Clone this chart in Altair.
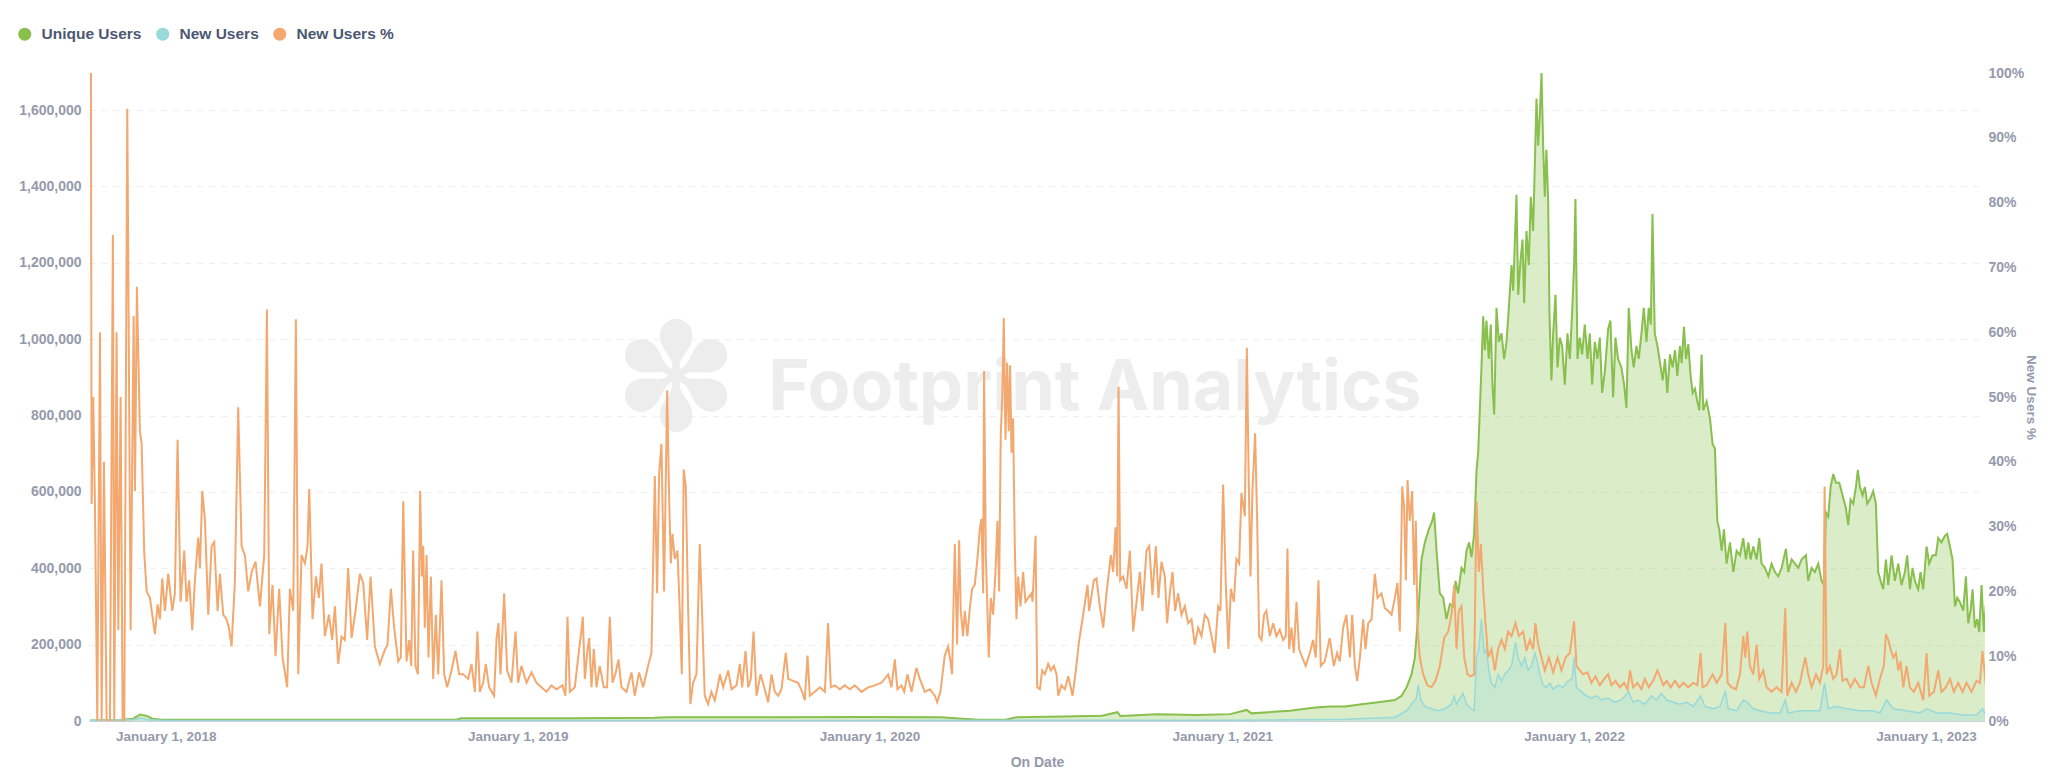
import altair as alt
import pandas as pd

# day 0 = 2017-10-14 07:00 (local)
START = pd.Timestamp("2017-10-14 07:00")
X_DOMAIN_DAYS = [-1, 1966]

SERIES = ["Unique Users", "New Users", "New Users %"]
COLORS = ["#88BF4D", "#98D9D9", "#F2A86F"]

YEAR_TICKS = [2018, 2019, 2020, 2021, 2022, 2023]
LEFT_TICKS = [0, 200000, 400000, 600000, 800000, 1000000, 1200000, 1400000, 1600000]
RIGHT_TICKS = [0, 0.1, 0.2, 0.3, 0.4, 0.5, 0.6, 0.7, 0.8, 0.9, 1.0]
LEFT_MAX = 1697000

# New Users % : (day, percent)
PCT_2017_2018 = [
    (1.0, 100), (1.7, 33.5), (3.4, 50), (5.2, 33), (7.6, 0), (10.4, 60), (12.1, 0), (14.5, 40),
    (17.3, 0), (20.7, 0), (23.8, 75), (25.2, 0), (27.6, 60), (29.4, 14), (31.8, 50), (33.9, 0),
    (35.6, 0), (38.7, 94.5), (42.2, 14), (45.3, 62.5), (46.7, 35.5), (48.7, 67), (51.8, 44.7),
    (53.6, 42.8), (56.3, 26), (58.8, 20), (62.2, 19), (67.4, 13.4), (70.2, 18), (72.6, 15.7),
    (75.0, 22), (77.8, 17), (81.2, 22.7), (85.4, 17), (88.1, 19.7), (90.9, 43.4), (94.0, 18.4),
    (97.8, 26.3), (100.2, 18.4), (103.0, 21.7), (106.1, 14), (108.9, 21.7), (112.3, 28.3),
    (114.1, 23.6), (116.5, 35.5), (119.3, 31), (122.7, 16.4), (126.2, 27), (128.9, 27.6),
    (132.4, 17), (134.8, 22.7), (138.3, 16.4), (141.7, 15.7), (144.1, 14.4), (146.9, 11.5),
    (150.4, 21.7), (153.8, 48.4), (157.3, 27), (160.7, 25.6), (164.2, 20), (167.7, 23),
    (171.8, 24.6), (176.3, 17.7), (180.8, 25.6), (183.6, 63.5), (186.0, 13.4), (189.4, 21),
    (192.5, 10), (196.3, 20.4), (199.8, 9.8), (204.6, 5.2), (207.4, 20.4), (210.9, 17),
    (213.6, 62), (216.1, 7.2), (219.5, 25.6), (223.0, 24.3), (225.7, 27), (227.5, 35.8),
    (230.9, 15.7), (234.4, 22.3), (237.5, 19), (240.2, 24.3), (243.7, 13.1), (247.9, 16.4),
    (251.3, 12.5), (254.1, 17.7), (257.5, 8.8), (261.0, 13), (264.4, 12.5), (267.9, 23.6),
    (271.4, 12.8), (275.5, 17), (280.0, 22.7), (283.5, 21.3), (287.6, 12.5), (291.1, 22.3),
    (295.6, 11.5), (300.7, 8.8), (306.0, 11), (308.7, 11.8), (312.2, 20.4), (315.6, 14.4),
    (319.8, 9.2), (322.5, 9.8), (325.0, 33.9),
]
PCT_2019 = [
    (328.4, 9.2), (331.2, 12.5), (333.3, 8.5), (335.3, 26.3), (337.7, 8.5), (340.2, 7.2),
    (342.6, 35.5), (344.3, 22.3), (345.7, 27), (347.4, 14.4), (349.2, 25.6), (351.2, 9.8),
    (353.7, 22.3), (356.1, 6.5), (358.8, 16.4), (361.3, 7.2), (364.7, 21.7), (367.5, 7.2),
    (370.6, 5.2), (375.1, 7.8), (379.2, 10.8), (383.0, 7.2), (387.2, 7.2), (392.4, 6.5),
    (395.8, 8.8), (399.3, 4.5), (402.0, 13.8), (404.5, 4.5), (407.9, 5.9), (410.7, 8.8),
    (414.1, 5.2), (419.3, 3.9), (421.8, 12.8), (423.8, 15.1), (425.9, 7.2), (429.7, 19.7),
    (432.8, 7.8), (437.3, 5.9), (441.5, 13.8), (444.2, 5.9), (447.7, 8.5), (452.9, 5.9),
    (458.1, 7.5), (463.2, 5.9), (468.4, 5.2), (473.6, 4.5), (478.8, 5.5), (484.0, 4.9),
    (490.2, 5.5), (493.3, 3.9), (495.4, 16.1), (497.8, 4.5), (503.0, 5.2), (507.5, 11.1),
    (509.2, 13.1), (511.3, 16.1), (513.4, 6.5), (515.8, 10.5), (517.9, 12.8), (520.3, 5.2),
    (522.7, 11.1), (525.5, 5.2), (528.9, 8.5), (533.1, 5.2), (536.5, 5.2), (539.3, 16.1),
    (542.1, 5.9), (545.5, 7.5), (548.3, 9.5), (551.4, 5.2), (556.6, 4.5), (561.8, 7.5),
    (565.2, 3.9), (569.7, 7.5), (573.9, 5.2), (579.0, 8.5), (582.5, 10.5), (586.0, 37.8),
    (588.4, 19.7), (590.5, 38.1), (592.9, 42.8), (595.6, 20), (598.8, 51), (600.8, 34.8),
    (602.6, 24.3), (604.3, 28.9), (606.7, 25), (609.5, 26.3), (611.9, 17), (614.0, 7.2),
    (616.0, 38.8), (618.1, 36.2), (620.5, 17.7), (622.9, 2.6), (625.7, 5.9), (629.2, 7.2),
    (632.6, 27.3), (635.1, 16.4), (637.8, 3.9), (641.3, 2.6), (644.7, 4.5), (648.2, 3.2),
]
PCT_2020 = [
    (651.1, 5.2), (653.5, 7.2), (656.9, 5.2), (662.1, 7.8), (665.6, 4.9), (670.8, 5.5),
    (674.2, 8.8), (676.6, 5.2), (680.1, 10.8), (682.9, 5.2), (685.6, 6.5), (688.4, 13.8),
    (691.5, 3.9), (695.7, 7.2), (699.5, 5.2), (703.6, 2.9), (707.1, 7.2), (710.5, 4.5),
    (714.0, 3.9), (717.4, 4.9), (721.9, 10.5), (724.4, 6.5), (729.5, 6.2), (734.7, 5.9),
    (738.9, 4.5), (741.6, 3.2), (744.4, 10.1), (746.8, 3.9), (752.0, 4.5), (757.2, 5.2),
    (762.4, 4.5), (765.8, 15.1), (768.6, 5.2), (772.8, 5.5), (777.9, 4.9), (783.1, 5.5),
    (788.3, 4.9), (793.5, 5.5), (800.4, 4.5), (807.3, 5.2), (814.2, 5.5), (821.2, 5.9),
    (828.1, 7.2), (831.5, 5.2), (835.0, 9.5), (837.7, 4.9), (841.9, 5.5), (844.7, 4.5),
    (848.1, 7.2), (852.3, 4.5), (857.4, 8.2), (860.9, 6.5), (866.1, 4.5), (871.3, 4.9),
    (876.5, 3.9), (878.9, 2.9), (882.3, 4.5), (886.8, 10.1), (890.3, 11.5), (892.7, 9.2),
    (894.4, 7.2), (897.2, 27.3), (899.6, 11.8), (901.7, 27.9), (903.4, 17), (905.8, 13.1),
    (907.6, 17), (910.3, 13.1), (912.8, 17.4), (915.2, 20.4), (917.9, 21), (920.7, 25),
    (923.1, 29.6), (924.9, 31.2), (926.6, 19.7), (927.6, 54), (929.4, 25.6), (932.5, 9.8),
    (934.5, 19), (937.0, 16.4), (939.4, 23), (941.5, 30.9), (943.2, 20), (944.9, 44.1),
    (946.6, 50.7), (948.0, 62.2), (949.8, 43.4), (951.5, 55.3), (953.2, 44.7), (954.6, 54.9),
    (956.0, 41.4), (957.7, 46.7), (959.4, 27.6), (961.2, 15.7), (962.9, 22.3), (965.3, 17.7),
    (968.1, 23), (970.5, 18.4), (973.3, 19), (976.7, 19.7),
]
PCT_2021 = [
    (977.9, 18.4), (981.0, 28.6), (982.7, 5.2), (985.5, 4.9), (987.9, 7.8), (990.7, 7.2),
    (994.1, 8.8), (996.9, 7.8), (1000.0, 8.5), (1002.8, 7.2), (1004.5, 3.9), (1007.9, 5.5),
    (1011.4, 4.9), (1014.9, 6.9), (1019.4, 3.9), (1022.8, 7.8), (1026.3, 12.5), (1030.4, 16.4),
    (1034.9, 21), (1036.6, 17), (1039.1, 19.4), (1041.5, 21.7), (1044.2, 22), (1047.7, 17.7),
    (1051.2, 14.4), (1054.6, 19.7), (1059.1, 25.6), (1061.5, 23), (1063.9, 29.9), (1065.7, 22.3),
    (1067.1, 51.6), (1068.8, 21.7), (1071.9, 22.3), (1075.4, 20.4), (1078.8, 26.3), (1082.3, 13.8),
    (1085.7, 18.4), (1089.2, 23), (1091.9, 17), (1096.1, 26.3), (1098.9, 27), (1102.3, 19.4),
    (1105.8, 27), (1108.5, 19), (1111.7, 24.6), (1115.1, 22.3), (1117.5, 15.1), (1120.3, 19.7),
    (1123.1, 23), (1125.8, 17), (1128.9, 19.7), (1132.4, 16.4), (1135.9, 17.7), (1139.3, 15.1),
    (1142.8, 15.7), (1146.2, 11.8), (1149.7, 14.4), (1153.1, 13.1), (1156.6, 16.4), (1160.0, 15.7),
    (1163.5, 13.1), (1166.9, 10.5), (1170.4, 17.7), (1172.8, 17), (1175.6, 36.5), (1178.4, 21),
    (1181.1, 11.1), (1183.6, 20.4), (1186.7, 18.4), (1189.4, 25), (1192.2, 24.3), (1194.6, 35.2),
    (1198.1, 31.6), (1200.2, 57.6), (1202.2, 36.8), (1204.0, 22.3), (1206.0, 35.5), (1208.8, 44.4),
    (1210.9, 30.9), (1212.9, 13.1), (1215.4, 12.5), (1218.1, 16.4), (1220.5, 17), (1224.0, 13.1),
    (1227.5, 15.1), (1230.9, 13.1), (1234.4, 14.1), (1237.8, 12.5), (1240.6, 13.1), (1242.3, 26.6),
    (1244.1, 11.1), (1246.5, 14.4), (1248.9, 10.5), (1251.7, 18.4), (1254.4, 11.1), (1256.9, 10.1),
    (1261.3, 8.5), (1265.5, 10.5), (1268.9, 12.5), (1271.7, 9.8), (1274.5, 21.7), (1276.9, 8.5),
    (1281.0, 9.2), (1286.2, 12.8), (1290.4, 8.5), (1293.8, 10.5), (1296.6, 9.2), (1300.1, 14.4),
    (1303.5, 16.4),
]
PCT_2021B = [
    (1307.1, 9.8), (1309.5, 16.4), (1312.3, 8.5), (1314.7, 6.2), (1317.5, 9.8), (1320.9, 15.7),
    (1323.3, 11.1), (1326.1, 15.1), (1329.6, 15.7), (1333.0, 22.7), (1335.8, 19), (1339.9, 19.7),
    (1343.4, 17.4), (1346.8, 17), (1350.3, 16.4), (1353.8, 19), (1356.5, 21.3), (1358.9, 13.8),
    (1361.4, 36.2), (1363.4, 32.9), (1365.2, 21.7), (1366.9, 37.2), (1369.3, 30.9), (1371.7, 35.5),
    (1373.8, 21), (1375.5, 30.9), (1377.3, 14.4), (1379.7, 9.8), (1383.1, 7.2), (1387.6, 5.5),
    (1391.8, 5.2), (1395.9, 6.2), (1400.4, 8.5), (1404.9, 12.8), (1409.1, 13.8), (1412.5, 16.4),
    (1415.3, 21), (1417.7, 11.1), (1420.1, 17), (1422.9, 17.7), (1425.7, 9.8), (1429.1, 7.2),
    (1432.6, 6.9), (1436.0, 7.2), (1438.5, 33.9), (1440.9, 23), (1443.0, 27.3), (1445.4, 20.4),
    (1447.8, 15.1), (1450.6, 9.8), (1454.0, 11.1), (1457.5, 7.8), (1460.9, 11.1), (1464.4, 12.5),
    (1467.8, 11.1), (1471.3, 13.8), (1474.8, 13.1), (1478.9, 15.1), (1482.4, 13.1), (1486.9, 13.8),
    (1490.3, 10.8), (1493.8, 12.5), (1497.2, 11.1), (1499.6, 15.1), (1502.4, 11.8), (1505.9, 9.8),
    (1509.3, 7.8), (1513.5, 9.8), (1518.0, 7.5), (1522.5, 9.8), (1526.6, 7.8), (1530.8, 9.8),
    (1535.3, 10.5), (1539.7, 15.4), (1542.2, 8.5), (1545.6, 7.8), (1549.1, 7.2), (1553.6, 7.5),
    (1557.7, 5.9), (1561.9, 6.9), (1566.4, 5.5), (1570.9, 6.5), (1575.0, 7.2), (1578.5, 5.5),
    (1582.6, 6.2), (1587.1, 5.2), (1591.6, 5.9), (1595.1, 4.9), (1597.8, 7.8), (1600.9, 5.2),
    (1605.4, 5.9), (1609.6, 4.9), (1613.0, 6.5), (1617.2, 5.2), (1621.7, 6.2), (1626.2, 7.8),
]
PCT_2022 = [
    (1632.3, 5.5), (1635.7, 6.2), (1639.9, 5.2), (1644.4, 6.2), (1648.9, 5.2), (1653.0, 5.9),
    (1658.2, 5.2), (1663.4, 5.9), (1667.5, 5.5), (1671.0, 10.5), (1673.0, 5.2), (1677.2, 5.5),
    (1683.4, 7.2), (1687.6, 5.9), (1692.8, 7.2), (1696.6, 15.1), (1699.0, 5.9), (1703.1, 5.2),
    (1707.6, 4.9), (1711.8, 7.2), (1715.2, 13.1), (1717.3, 9.8), (1719.4, 13.8), (1722.1, 8.5),
    (1725.6, 7.2), (1729.1, 11.8), (1731.8, 6.5), (1736.0, 7.8), (1739.4, 5.2), (1744.6, 4.5),
    (1749.8, 5.2), (1755.0, 4.5), (1758.8, 17.4), (1760.9, 3.9), (1765.4, 5.9), (1769.8, 4.5),
    (1774.0, 5.9), (1779.5, 9.8), (1782.6, 7.2), (1786.1, 5.2), (1790.6, 7.2), (1794.7, 5.9),
    (1798.2, 8.5), (1799.6, 36.2), (1801.7, 7.2), (1805.1, 8.5), (1808.6, 6.5), (1812.0, 7.2),
    (1815.5, 11.1), (1818.2, 6.2), (1822.4, 6.5), (1826.5, 5.2), (1831.0, 6.5), (1836.2, 5.2),
    (1840.4, 5.2), (1844.9, 8.5), (1848.3, 5.9), (1852.8, 3.9), (1857.0, 6.5), (1861.1, 8.5),
    (1863.2, 13.4), (1865.6, 12.5), (1868.0, 11.1), (1870.8, 9.8), (1873.6, 10.5), (1876.0, 7.8),
    (1878.4, 9.2), (1881.2, 5.2), (1884.6, 8.5), (1888.1, 5.2), (1892.2, 4.5), (1896.7, 5.9),
    (1901.9, 3.2), (1905.4, 10.5), (1908.1, 3.9), (1913.0, 4.5), (1917.5, 7.8), (1920.9, 4.5),
    (1925.4, 5.2), (1929.6, 6.5), (1933.7, 4.5), (1938.2, 5.9), (1942.7, 4.5), (1946.8, 5.9),
    (1952.0, 4.5), (1957.2, 6.2), (1960.7, 5.9), (1963.4, 10.8), (1966.9, 5.5),
]

# Unique Users : (day, users)
UNIQUE_EARLY = [
    (0, 1500), (30, 2500), (45, 6000), (52, 17000), (58, 14000), (65, 6000), (75, 3500),
    (150, 3000), (250, 3000), (380, 3500), (385, 7000), (500, 7500), (585, 8500), (600, 10000),
    (700, 9500), (800, 10500), (883, 10000), (905, 6000), (922, 3000), (950, 3500), (961, 10000),
    (1010, 12000), (1050, 14000), (1066, 23000), (1069, 13000), (1107, 18000), (1148, 16000),
    (1183, 18000), (1200, 29000), (1205, 20000), (1245, 27000), (1269, 35000), (1286, 38000),
    (1302, 38000),
]
UNIQUE_2021 = [
    (1319.2, 43600), (1336.5, 49000), (1353.8, 55000), (1360.7, 66000), (1365.9, 88000),
    (1371.0, 122000), (1374.5, 166000), (1378.0, 278000), (1381.4, 423000), (1384.9, 468000),
    (1389.0, 502000), (1392.5, 524000), (1394.5, 546000), (1397.0, 446000), (1400.4, 334000),
    (1403.9, 323000), (1407.3, 267000), (1410.8, 306000), (1414.3, 300000), (1416.7, 367000),
    (1419.4, 334000), (1422.9, 401000), (1425.7, 390000), (1428.1, 446000), (1430.8, 468000),
    (1433.3, 429000), (1436.0, 490000), (1438.5, 658000), (1440.2, 703000), (1441.9, 814000),
    (1443.6, 926000), (1445.4, 1060000), (1447.1, 971000), (1448.8, 1049000), (1451.2, 948000),
    (1453.3, 1038000), (1455.0, 881000), (1456.8, 803000), (1459.2, 1082000), (1461.6, 993000),
    (1464.4, 1015000), (1467.1, 948000), (1469.6, 993000), (1472.0, 1082000), (1474.8, 1194000),
    (1476.5, 1127000), (1479.9, 1378000), (1481.7, 1116000), (1484.1, 1205000), (1486.2, 1261000),
    (1487.9, 1094000), (1490.3, 1283000), (1492.7, 1194000), (1494.8, 1373000), (1497.2, 1283000),
    (1500.7, 1630000), (1502.4, 1507000), (1504.1, 1585000), (1505.9, 1697000), (1507.6, 1507000),
    (1509.3, 1373000), (1511.0, 1496000), (1512.8, 1362000), (1514.2, 1060000), (1516.2, 892000),
    (1518.0, 1015000), (1520.4, 1116000), (1522.5, 926000), (1524.9, 1004000), (1527.3, 982000),
    (1530.1, 881000), (1532.8, 1015000), (1535.3, 948000), (1537.7, 1071000), (1539.7, 1194000),
    (1541.1, 1367000), (1543.2, 948000), (1545.6, 1004000), (1548.0, 960000), (1550.8, 1038000),
    (1553.6, 948000), (1556.0, 1015000), (1558.4, 881000), (1561.2, 993000), (1563.9, 948000),
    (1566.4, 1004000), (1568.8, 859000), (1571.6, 915000), (1575.0, 1026000), (1577.4, 1049000),
    (1580.2, 848000), (1582.6, 1004000), (1585.4, 948000), (1588.8, 926000), (1591.6, 881000),
    (1594.0, 820000), (1596.4, 1082000), (1599.2, 971000), (1601.6, 926000), (1604.4, 982000),
    (1606.8, 948000), (1609.6, 1015000), (1612.0, 1082000), (1614.8, 993000), (1617.2, 1082000),
    (1619.3, 1038000), (1621.0, 1328000), (1623.4, 1015000), (1626.2, 982000),
]
UNIQUE_2022 = [
    (1631.6, 892000), (1634.0, 948000), (1636.4, 859000), (1639.2, 960000), (1641.9, 926000),
    (1644.4, 971000), (1646.8, 904000), (1649.5, 982000), (1651.3, 937000), (1653.7, 1032000),
    (1655.8, 948000), (1658.2, 987000), (1660.6, 904000), (1662.7, 859000), (1665.1, 870000),
    (1667.5, 837000), (1669.6, 814000), (1672.0, 960000), (1673.7, 814000), (1677.2, 837000),
    (1680.7, 792000), (1683.4, 725000), (1685.8, 714000), (1688.3, 524000), (1690.3, 502000),
    (1692.8, 446000), (1695.2, 502000), (1697.9, 412000), (1701.4, 468000), (1704.9, 390000),
    (1708.3, 446000), (1711.8, 434000), (1715.2, 479000), (1718.0, 423000), (1720.4, 468000),
    (1722.8, 423000), (1725.6, 457000), (1729.1, 423000), (1731.8, 479000), (1734.2, 412000),
    (1737.7, 401000), (1741.2, 379000), (1744.6, 412000), (1748.1, 390000), (1751.5, 379000),
    (1755.0, 401000), (1759.5, 451000), (1761.9, 390000), (1765.4, 423000), (1768.8, 412000),
    (1772.3, 401000), (1775.7, 423000), (1780.2, 434000), (1782.6, 367000), (1786.1, 401000),
    (1789.5, 390000), (1793.0, 412000), (1796.5, 367000), (1798.9, 356000), (1801.0, 546000),
    (1803.4, 535000), (1805.8, 613000), (1808.6, 647000), (1811.3, 624000), (1814.8, 624000),
    (1818.2, 591000), (1821.7, 557000), (1824.1, 513000), (1826.5, 580000), (1829.3, 569000),
    (1832.1, 613000), (1834.1, 658000), (1836.2, 613000), (1839.0, 591000), (1841.4, 613000),
    (1843.8, 569000), (1846.6, 580000), (1850.0, 602000), (1852.8, 569000), (1855.2, 390000),
    (1857.7, 367000), (1860.4, 345000), (1863.2, 423000), (1865.6, 356000), (1869.1, 434000),
    (1872.5, 367000), (1876.0, 412000), (1879.4, 356000), (1882.9, 390000), (1885.3, 434000),
    (1888.1, 345000), (1890.8, 401000), (1893.3, 367000), (1896.7, 345000), (1899.1, 390000),
    (1901.9, 345000), (1905.4, 457000), (1908.1, 412000), (1911.6, 434000), (1915.0, 434000),
    (1917.5, 479000), (1920.9, 468000), (1924.4, 485000), (1926.8, 490000), (1929.6, 457000),
    (1932.3, 423000), (1934.8, 300000), (1937.2, 323000), (1939.9, 312000), (1943.4, 289000),
    (1946.2, 379000), (1948.6, 256000), (1951.0, 289000), (1953.1, 345000), (1955.5, 245000),
    (1957.9, 267000), (1960.0, 233000), (1962.4, 356000), (1964.8, 233000), (1966.9, 306000),
]

# New Users : (day, users)
NEW_USERS = [
    (0, 1000), (45, 4000), (53, 8000), (60, 3000), (80, 1000), (400, 1000), (800, 1500),
    (1174, 2000), (1250, 3000), (1301.9, 4500), (1353.8, 10000), (1365.9, 27000), (1371.0, 44000),
    (1376.2, 60000), (1378.0, 94000), (1380.7, 55000), (1384.9, 38000), (1391.8, 32000),
    (1398.7, 27000), (1405.6, 32000), (1412.5, 44000), (1415.3, 66000), (1417.7, 44000),
    (1421.2, 60000), (1424.6, 72000), (1428.1, 44000), (1433.3, 32000), (1436.0, 27000),
    (1438.5, 166000), (1440.9, 189000), (1443.6, 267000), (1446.4, 178000), (1448.8, 189000),
    (1451.2, 133000), (1454.0, 99000), (1457.5, 88000), (1460.9, 122000), (1464.4, 105000),
    (1467.8, 122000), (1471.3, 133000), (1474.8, 144000), (1478.9, 206000), (1481.7, 166000),
    (1485.1, 144000), (1488.6, 166000), (1492.0, 133000), (1495.5, 144000), (1498.9, 178000),
    (1501.7, 155000), (1504.1, 122000), (1507.6, 94000), (1511.0, 88000), (1514.5, 99000),
    (1518.0, 83000), (1523.1, 94000), (1528.3, 88000), (1533.5, 105000), (1537.7, 111000),
    (1539.7, 166000), (1542.2, 88000), (1547.3, 77000), (1552.5, 66000), (1557.7, 60000),
    (1562.9, 66000), (1568.1, 55000), (1575.0, 60000), (1581.9, 49000), (1588.8, 55000),
    (1596.4, 77000), (1600.9, 49000), (1606.1, 55000), (1613.0, 44000), (1619.9, 66000),
    (1625.1, 55000), (1630.3, 72000), (1635.7, 55000), (1642.6, 49000), (1649.5, 44000),
    (1656.5, 49000), (1663.4, 38000), (1671.0, 66000), (1675.5, 38000), (1684.1, 32000),
    (1691.0, 38000), (1696.6, 77000), (1699.7, 32000), (1708.3, 27000), (1715.2, 55000),
    (1719.4, 49000), (1725.6, 32000), (1732.5, 27000), (1742.9, 21000), (1753.3, 21000),
    (1758.8, 55000), (1761.9, 21000), (1774.0, 27000), (1784.4, 27000), (1794.7, 27000),
    (1799.6, 99000), (1803.4, 32000), (1812.0, 38000), (1822.4, 32000), (1836.2, 27000),
    (1850.0, 27000), (1857.0, 21000), (1863.9, 55000), (1870.8, 32000), (1884.6, 27000),
    (1898.4, 21000), (1905.4, 32000), (1915.8, 21000), (1929.6, 21000), (1943.4, 16000),
    (1957.2, 16000), (1963.4, 32000), (1966.9, 16000),
]


def frame(points, series, scale=1.0):
    days = [p[0] for p in points]
    vals = [p[1] * scale for p in points]
    dates = START + pd.to_timedelta(days, unit="D")
    return pd.DataFrame({
        "date": dates.strftime("%Y-%m-%dT%H:%M:%S"),
        "value": vals,
        "series": series,
    })


def dt(ts):
    return alt.DateTime(year=ts.year, month=ts.month, date=ts.day, hours=ts.hour)


df_unique = frame(UNIQUE_EARLY + UNIQUE_2021 + UNIQUE_2022, SERIES[0])
df_new = frame(NEW_USERS, SERIES[1])
df_pct = frame(PCT_2017_2018 + PCT_2019 + PCT_2020 + PCT_2021 + PCT_2021B + PCT_2022,
               SERIES[2], 0.01)

FONT = "Liberation Sans"
GRAY = "#949AAB"

x_start = START + pd.Timedelta(days=X_DOMAIN_DAYS[0])
x_end = START + pd.Timedelta(days=X_DOMAIN_DAYS[1])

x_enc = alt.X(
    "date:T",
    scale=alt.Scale(domain=[dt(x_start), dt(x_end)]),
    axis=alt.Axis(
        values=[alt.DateTime(year=y, month=1, date=1) for y in YEAR_TICKS],
        format="%B %-d, %Y", title="On Date", grid=False,
        ticks=False, tickSize=0, labelPadding=8, titlePadding=13,
        labelFont=FONT, labelFontSize=13.5, labelFontWeight="bold", labelColor=GRAY,
        titleFont=FONT, titleFontSize=14, titleFontWeight="bold", titleColor=GRAY,
        domainColor="#CDD0D6", labelFlush=False,
    ),
)

y_left = alt.Y(
    "value:Q",
    scale=alt.Scale(domain=[0, LEFT_MAX], nice=False),
    axis=alt.Axis(
        orient="left", values=LEFT_TICKS, format=",.0f", title=None,
        grid=True, gridDash=[6, 6], gridColor="#EEEFF1", domain=False,
        ticks=False, tickSize=0, labelPadding=8,
        labelFont=FONT, labelFontSize=14, labelFontWeight="bold", labelColor=GRAY,
    ),
)

y_right = alt.Y(
    "value:Q",
    scale=alt.Scale(domain=[0, 1], nice=False),
    axis=alt.Axis(
        orient="right", values=RIGHT_TICKS, format=".0%", title="New Users %",
        grid=False, domain=False, ticks=False, tickSize=0, labelPadding=3,
        labelFont=FONT, labelFontSize=14, labelFontWeight="bold", labelColor=GRAY,
        titleFont=FONT, titleFontSize=13.5, titleFontWeight="bold", titleColor=GRAY,
        titlePadding=0,
    ),
)

color_scale = alt.Scale(domain=SERIES, range=COLORS)
legend = alt.Legend(
    title=None, orient="none", legendX=-72, legendY=-47, direction="horizontal",
    symbolType="circle", symbolSize=169, symbolOpacity=1, symbolStrokeWidth=0,
    labelFont=FONT, labelFontSize=15.5, labelFontWeight="bold", labelColor="#4C5773",
    labelOffset=9, columnPadding=13, padding=0,
)

watermark = alt.Chart(pd.DataFrame({"t": ["Footprint Analytics"]})).mark_text(
    font="Inter", fontSize=70, fontWeight="bold", color="#EDEDED",
    align="center", baseline="middle",
).encode(x=alt.value(1006), y=alt.value(316), text="t:N")

logo = alt.Chart(pd.DataFrame({"t": ["\u273d"]})).mark_text(
    font="DejaVu Sans", fontSize=150, color="#EDEDED", align="center", baseline="middle",
).encode(x=alt.value(587), y=alt.value(312), text="t:N")

unique_area = alt.Chart(df_unique).mark_area(
    line=alt.OverlayMarkDef(strokeWidth=2), fillOpacity=0.3, clip=True,
).encode(
    x=x_enc, y=y_left,
    color=alt.Color("series:N", scale=color_scale, legend=legend),
)

new_area = alt.Chart(df_new).mark_area(
    line=alt.OverlayMarkDef(strokeWidth=1.5), fillOpacity=0.3, clip=True,
).encode(
    x=x_enc, y=y_left,
    color=alt.Color("series:N", scale=color_scale, legend=None),
)

pct_line = alt.Chart(df_pct).mark_line(strokeWidth=2, clip=True).encode(
    x=x_enc, y=y_right,
    color=alt.Color("series:N", scale=color_scale, legend=None),
)

chart = alt.layer(
    watermark, logo, alt.layer(unique_area, new_area), pct_line
).resolve_scale(y="independent").properties(
    width=1896, height=648, background="white",
    padding={"left": 81, "top": 65, "right": 55, "bottom": 48},
    autosize=alt.AutoSizeParams(type="none"),
).configure_view(stroke=None)

chart.save("out.html", embed_options={"renderer": "svg", "actions": False})
